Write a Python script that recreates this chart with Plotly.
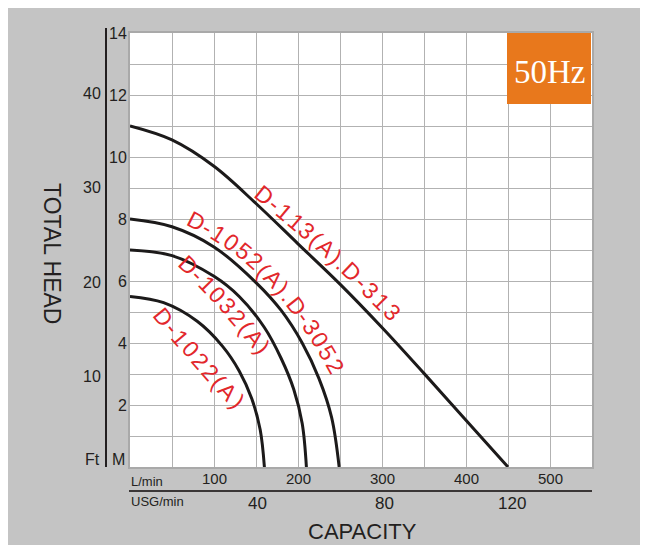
import math
import plotly.graph_objects as go

# pump curves: capacity in L/min, total head in m
flow_113 = [0, 50, 100, 150, 200, 250, 300, 350, 400, 450]
head_113 = [11.0, 10.55, 9.7, 8.5, 7.2, 5.9, 4.5, 3.02, 1.51, 0]

flow_1052 = [0, 50, 100, 150, 180, 205, 225, 240, 249]
head_1052 = [8.0, 7.75, 7.1, 5.95, 5.05, 4.0, 2.85, 1.6, 0]

flow_1032 = [0, 50, 100, 130, 160, 180, 195, 205, 210]
head_1032 = [7.0, 6.82, 6.15, 5.5, 4.5, 3.5, 2.5, 1.4, 0]

flow_1022 = [0, 40, 80, 110, 130, 145, 155, 160]
head_1022 = [5.5, 5.3, 4.7, 3.9, 3.1, 2.2, 1.2, 0]

curve_names = ["D-113(A).D-313", "D-1052(A).D-3052", "D-1032(A)", "D-1022(A)"]

lpm_ticks = [100, 200, 300, 400, 500]
usg_ticks = [40, 80, 120]
m_ticks = [2, 4, 6, 8, 10, 12, 14]
ft_ticks = [10, 20, 30, 40]

LPM_PER_USG = 3.785
FT_PER_M = 3.28084

FONT = "Liberation Sans, Arial, sans-serif"
RED = "#e2272b"
GRID = "#b2b2b2"
INK = "#231f20"

# page pixels (the page has an 8px body margin): plot frame 130..592 x 33..467
L, R, T, B = 122, 64, 25, 86


def xp(px):
    return (px - 130) / 462.0


def yp(py):
    return (467 - py) / 434.0


def dx(px):
    return (px - 130) / 0.84


def dy(py):
    return (467 - py) / 31.0


fig = go.Figure()
for q, h in [(flow_113, head_113), (flow_1052, head_1052), (flow_1032, head_1032), (flow_1022, head_1022)]:
    fig.add_trace(go.Scatter(x=q, y=h, mode="lines", line=dict(color="#1c1a1a", width=3, shape="spline", smoothing=1.0),
                             showlegend=False, hoverinfo="skip"))

axis_common = dict(showgrid=True, gridcolor=GRID, gridwidth=1, showline=True, linecolor="#a9a9a9", linewidth=1.5,
                   mirror=True, zeroline=False, showticklabels=False, ticks="")
fig.update_layout(
    width=648, height=545,
    margin=dict(l=L, r=R, t=T, b=B, pad=0),
    paper_bgcolor="#c4c4c4", plot_bgcolor="white",
    font=dict(family=FONT, color=INK, size=16),
    xaxis=dict(range=[0, 550], dtick=50, tick0=0, **axis_common),
    yaxis=dict(range=[0, 14], dtick=1, tick0=0, **axis_common),
)

shapes = [
    dict(type="line", xref="paper", yref="paper", x0=xp(106), x1=xp(106), y0=yp(467), y1=yp(28),
         line=dict(color=INK, width=2)),
    dict(type="line", xref="paper", yref="paper", x0=xp(129), x1=xp(592), y0=yp(491), y1=yp(491),
         line=dict(color="#3a3636", width=2)),
    dict(type="rect", xref="paper", yref="paper", x0=xp(507), x1=xp(591), y0=yp(104), y1=yp(33),
         fillcolor="#e8781c", line=dict(width=0), layer="above"),
]
fig.update_layout(shapes=shapes)

ann = []


def text(t, x, y, xref="paper", yref="paper", size=16, anchor="center", **kw):
    ann.append(dict(text=t, x=x, y=y, xref=xref, yref=yref, xanchor=anchor, yanchor="middle", showarrow=False,
                    font=dict(size=size, family=kw.pop("family", FONT), color=kw.pop("color", INK)), **kw))


for v in m_ticks:
    text(str(v), xp(128.5), v, yref="y", anchor="right")
for v in ft_ticks:
    text(str(v), xp(103), v / FT_PER_M, yref="y", anchor="right", yshift=-4)
for v in lpm_ticks:
    text(str(v), v, yp(478), xref="x", size=15)
for u in usg_ticks:
    text(str(u), u * LPM_PER_USG, yp(503), xref="x", size=17)

text("Ft", xp(102), yp(459), anchor="right")
text("M", xp(110), yp(459), anchor="left")
text("L/min", xp(129), yp(482), anchor="left", size=13, family="Liberation Sans Narrow, " + FONT)
text("USG/min", xp(129), yp(501), anchor="left", size=13, family="Liberation Sans Narrow, " + FONT)
text("CAPACITY", xp(362), yp(531), size=22)
text("TOTAL HEAD", xp(52), yp(253), size=23, textangle=90)
text("50Hz", xp(549), yp(72), size=33, family="Liberation Serif, serif", color="white")

# curve labels follow a gentle arc: (start, middle, end) char centres in page pixels
label_paths = [
    [(264, 195), (328, 250), (392, 312)],
    [(196, 221), (272, 278), (335, 366)],
    [(188, 265), (225, 303), (263, 348)],
    [(163, 317), (197, 357), (238, 402)],
]
EM = {"D": .722, "-": .333, "(": .333, ")": .333, "A": .667, ".": .278}


def place_label(name, path, size=23):
    (ax, ay), (mx, my), (bx, by) = path
    cx, cy = 2 * mx - (ax + bx) / 2, 2 * my - (ay + by) / 2
    pts = []
    for i in range(201):
        t = i / 200
        pts.append(((1 - t) ** 2 * ax + 2 * t * (1 - t) * cx + t * t * bx,
                    (1 - t) ** 2 * ay + 2 * t * (1 - t) * cy + t * t * by))
    arc = [0.0]
    for p, q in zip(pts, pts[1:]):
        arc.append(arc[-1] + math.dist(p, q))
    widths = [EM.get(c, .556) for c in name]
    centres = []
    run = 0.0
    for w in widths:
        centres.append(run + w / 2)
        run += w
    span = centres[-1] - centres[0]
    for ch, c in zip(name, centres):
        s = (c - centres[0]) / span * arc[-1]
        k = min(range(len(arc)), key=lambda j: abs(arc[j] - s))
        k0, k1 = max(k - 3, 0), min(k + 3, len(pts) - 1)
        ang = math.degrees(math.atan2(pts[k1][1] - pts[k0][1], pts[k1][0] - pts[k0][0]))
        text(ch, dx(pts[k][0]), dy(pts[k][1]), xref="x", yref="y", size=size, color=RED, textangle=ang)


for name, path in zip(curve_names, label_paths):
    place_label(name, path)

fig.update_layout(annotations=ann)

fig.write_html("out.html")
